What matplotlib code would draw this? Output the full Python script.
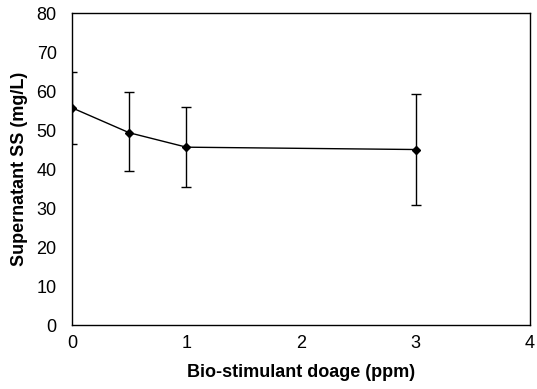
import matplotlib
matplotlib.use("Agg")
import matplotlib.pyplot as plt

plt.rcParams['font.family'] = ['Liberation Sans', 'DejaVu Sans']

dosage = [0, 0.5, 1, 3]
ss_mean = [55.7, 49.3, 45.6, 45.0]
ss_upper = [64.8, 59.7, 55.9, 59.2]
ss_lower = [46.4, 39.5, 35.5, 30.9]

err_low = [m - l for m, l in zip(ss_mean, ss_lower)]
err_high = [u - m for m, u in zip(ss_mean, ss_upper)]

fig = plt.figure(figsize=(5.37, 3.89), dpi=100)
ax = fig.add_axes([0.134, 0.1645, 0.853, 0.802])

ax.errorbar(dosage, ss_mean, yerr=[err_low, err_high], color='black',
            marker='D', markersize=4.5, linewidth=1.0, elinewidth=1.0,
            capsize=3.5, capthick=1.0)

ax.set_xlim(0, 4)
ax.set_ylim(0, 80)
ax.set_xticks([0, 1, 2, 3, 4])
ax.set_yticks(range(0, 81, 10))
ax.tick_params(length=0, labelsize=13)
ax.tick_params(axis='x', pad=7)
ax.tick_params(axis='y', pad=11)
for s in ax.spines.values():
    s.set_linewidth(1.0)

ax.set_xlabel('Bio-stimulant doage (ppm)', fontsize=13, fontweight='bold', labelpad=9)
ax.set_ylabel('Supernatant SS (mg/L)', fontsize=13, fontweight='bold', labelpad=6)

fig.savefig('out.png', dpi=100)
